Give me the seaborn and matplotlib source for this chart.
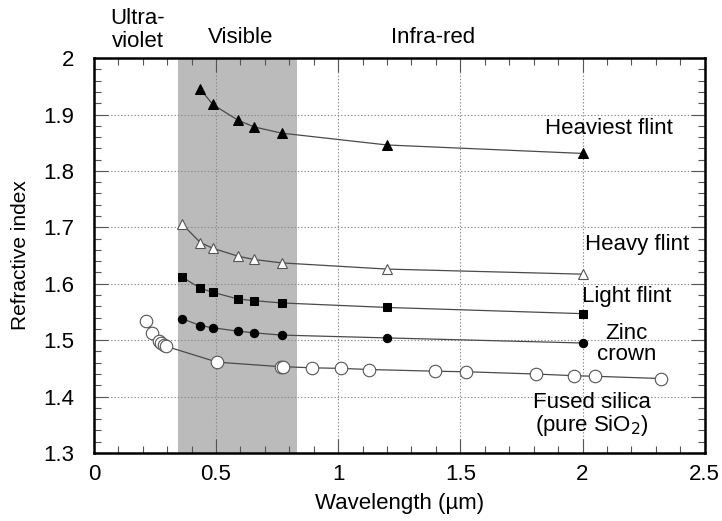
import numpy as np
import pandas as pd
import matplotlib
matplotlib.use("Agg")
import matplotlib.pyplot as plt
from matplotlib.ticker import MultipleLocator
import seaborn as sns

# wavelengths (um) and refractive indices
wl_heaviest = [0.4358, 0.4861, 0.5893, 0.6563, 0.768, 1.2, 2.0]
n_heaviest = [1.945, 1.918, 1.890, 1.878, 1.867, 1.846, 1.831]

wl_glass = [0.361, 0.4358, 0.4861, 0.5893, 0.6563, 0.768, 1.2, 2.0]
n_heavy = [1.706, 1.673, 1.663, 1.649, 1.643, 1.637, 1.626, 1.617]
n_light = [1.612, 1.592, 1.585, 1.573, 1.570, 1.566, 1.558, 1.547]
n_zinc = [1.538, 1.526, 1.522, 1.516, 1.513, 1.509, 1.504, 1.495]

wl_silica = [0.213, 0.238, 0.266, 0.275, 0.286, 0.297, 0.505, 0.766, 0.776,
             0.893, 1.011, 1.127, 1.395, 1.525, 1.809, 1.967, 2.053, 2.32]
n_silica = [1.534, 1.513, 1.499, 1.495, 1.492, 1.489, 1.461, 1.453, 1.453,
            1.451, 1.450, 1.448, 1.445, 1.444, 1.440, 1.437, 1.436, 1.432]

visible = (0.345, 0.83)

sns.set_style("ticks")
plt.rcParams['font.family'] = ['Liberation Sans', 'DejaVu Sans']
plt.rcParams['font.size'] = 16
plt.rcParams['text.color'] = 'black'
plt.rcParams['axes.labelcolor'] = 'black'
plt.rcParams['xtick.labelcolor'] = 'black'
plt.rcParams['ytick.labelcolor'] = 'black'

fig = plt.figure(figsize=(7.22, 5.21), dpi=100)
ax = fig.add_axes([0.130, 0.1305, 0.846, 0.758])

ax.axvspan(*visible, color='#bbbbbb', lw=0, zorder=0.3)

line_kw = dict(color='#4a4a4a', lw=0.9, sort=False, ax=ax, legend=False)

sns.lineplot(x=wl_heaviest, y=n_heaviest, marker='^', markersize=6.5,
             markerfacecolor='black', markeredgecolor='black', **line_kw)
sns.lineplot(x=wl_glass, y=n_heavy, marker='^', markersize=6.5,
             markerfacecolor='white', markeredgecolor='#555555',
             markeredgewidth=0.8, **line_kw)
sns.lineplot(x=wl_glass, y=n_light, marker='s', markersize=6,
             markerfacecolor='black', markeredgecolor='black', **line_kw)
sns.lineplot(x=wl_glass, y=n_zinc, marker='o', markersize=6,
             markerfacecolor='black', markeredgecolor='black', **line_kw)
sns.lineplot(x=wl_silica, y=n_silica, marker='o', markersize=9,
             markerfacecolor='white', markeredgecolor='#555555',
             markeredgewidth=0.8, **line_kw)

ax.set_xlim(0, 2.5)
ax.set_ylim(1.3, 2.0)
ax.xaxis.set_minor_locator(MultipleLocator(0.1))
ax.yaxis.set_minor_locator(MultipleLocator(0.02))
ax.set_xticks([0, 0.5, 1, 1.5, 2, 2.5])
ax.set_xticklabels(['0', '0.5', '1', '1.5', '2', '2.5'])
ax.set_yticks([1.3, 1.4, 1.5, 1.6, 1.7, 1.8, 1.9, 2.0])
ax.set_yticklabels(['1.3', '1.4', '1.5', '1.6', '1.7', '1.8', '1.9', '2'])

ax.tick_params(which='both', direction='in', top=True, right=True,
               labelsize=16, color='#555555', labelcolor='black')
ax.tick_params(which='major', length=10, width=0.8)
ax.tick_params(axis='y', which='major', pad=14)
ax.tick_params(axis='x', which='major', pad=8)
ax.tick_params(which='minor', length=5, width=0.8)
for s in ax.spines.values():
    s.set_linewidth(1.8)
    s.set_color('black')

ax.grid(True, which='major', ls=(0, (1.2, 1.8)), color='#888888', lw=0.8)
ax.set_axisbelow(True)

ax.set_xlabel('Wavelength (µm)', fontsize=16, labelpad=6)
ax.set_ylabel('Refractive index', fontsize=15, labelpad=10)

lab = dict(fontsize=16, ha='center', va='center', color='black')
ax.text(2.11, 1.876, 'Heaviest flint', **lab)
ax.text(2.225, 1.670, 'Heavy flint', **lab)
ax.text(2.18, 1.578, 'Light flint', **lab)
ax.text(2.18, 1.493, 'Zinc\ncrown', linespacing=1.0, **lab)
ax.text(2.04, 1.368, 'Fused silica\n(pure SiO$_2$)', linespacing=1.0, **lab)

top = dict(fontsize=16, ha='center', va='center', color='black',
           transform=ax.get_xaxis_transform(), clip_on=False)
ax.text(0.18, 1.071, 'Ultra-\nviolet', linespacing=1.1, **top)
ax.text(0.60, 1.053, 'Visible', **top)
ax.text(1.39, 1.053, 'Infra-red', **top)

fig.savefig('out.png', dpi=100)
